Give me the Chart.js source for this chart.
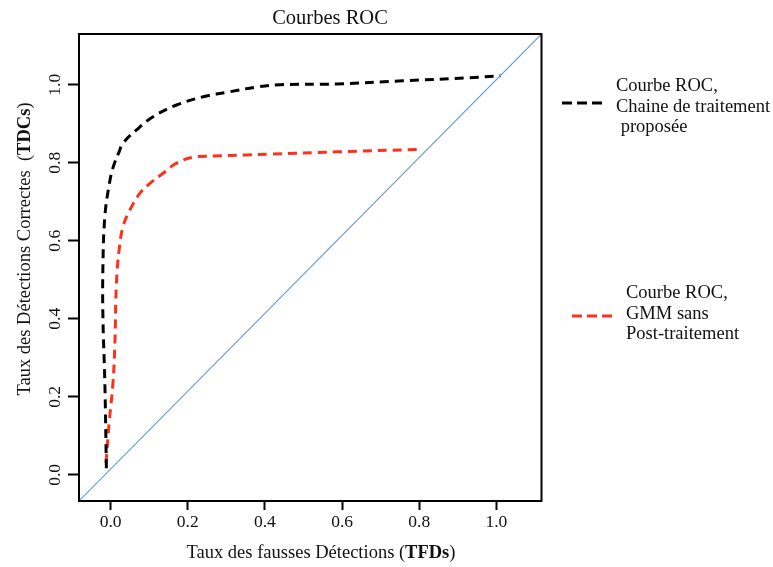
<!DOCTYPE html>
<html>
<head>
    <title>Courbes ROC</title>
    <meta charset="UTF-8">
    <script src="https://cdn.jsdelivr.net/npm/chart.js@4.4.0/dist/chart.umd.min.js"></script>
    <style>
        html, body {
            margin: 0;
            padding: 0;
            background-color: #fff;
        }
    </style>
</head>
<body>
    <canvas id="rocChart" width="773" height="567"></canvas>

    <script>
        // Axis ticks and bounds
        var xTicks = [0, 0.2, 0.4, 0.6, 0.8, 1.0];
        var yTicks = [0, 0.2, 0.4, 0.6, 0.8, 1.0];
        var xRange = [-0.082, 1.117];
        var yRange = [-0.067, 1.130];

        // Courbe ROC, chaine de traitement proposee (black)
        var tfdProposee = [-0.011, -0.015, -0.020, -0.020, -0.015, -0.003, 0.007, 0.022, 0.032, 0.067, 0.110, 0.171, 0.240, 0.309, 0.378, 0.439, 0.586, 0.758, 0.931, 1.011];
        var tdcProposee = [0.017, 0.236, 0.405, 0.534, 0.662, 0.748, 0.790, 0.828, 0.850, 0.884, 0.918, 0.948, 0.969, 0.982, 0.994, 1.000, 1.002, 1.010, 1.018, 1.023];

        // Courbe ROC, GMM sans post-traitement (red)
        var tfdGmm = [-0.012, -0.004, 0.006, 0.011, 0.015, 0.022, 0.032, 0.050, 0.076, 0.102, 0.136, 0.171, 0.214, 0.266, 0.352, 0.413, 0.586, 0.796];
        var tdcGmm = [0.030, 0.132, 0.235, 0.337, 0.491, 0.577, 0.636, 0.679, 0.722, 0.747, 0.773, 0.799, 0.814, 0.817, 0.820, 0.822, 0.828, 0.834];

        var legendItems = [
            { lines: ['Courbe ROC,', 'Chaine de traitement', ' proposée'], color: '#000000' },
            { lines: ['Courbe ROC,', 'GMM sans', 'Post-traitement'], color: '#ff3019' }
        ];

        function toPoints(xs, ys) {
            return xs.map(function (x, i) { return { x: x, y: ys[i] }; });
        }

        var serif = '"Liberation Serif", "Times New Roman", serif';

        // Draw box, tick labels, titles and legend by hand (R-like look)
        var decorPlugin = {
            id: 'decor',
            afterDraw: function (chart) {
                var ctx = chart.ctx;
                var area = chart.chartArea;
                var xs = chart.scales.x;
                var ys = chart.scales.y;

                ctx.save();
                ctx.strokeStyle = '#000';
                ctx.lineWidth = 2;
                ctx.strokeRect(area.left, area.top, area.right - area.left, area.bottom - area.top);

                ctx.fillStyle = '#111';
                ctx.font = '17.5px ' + serif;
                ctx.textAlign = 'center';
                ctx.textBaseline = 'middle';
                xTicks.forEach(function (v) {
                    ctx.fillText(v.toFixed(1), xs.getPixelForValue(v), 522);
                });
                yTicks.forEach(function (v) {
                    ctx.save();
                    ctx.translate(55, ys.getPixelForValue(v));
                    ctx.rotate(-Math.PI / 2);
                    ctx.fillText(v.toFixed(1), 0, 0);
                    ctx.restore();
                });

                // main title
                ctx.font = '20.5px ' + serif;
                ctx.textBaseline = 'alphabetic';
                ctx.fillText('Courbes ROC', 330, 24);

                // axis titles with bold acronyms
                function mixed(parts, cx, cy, rot) {
                    var total = 0;
                    parts.forEach(function (p) {
                        ctx.font = (p.bold ? 'bold ' : '') + '18.5px ' + serif;
                        p.w = ctx.measureText(p.t).width;
                        total += p.w;
                    });
                    ctx.save();
                    ctx.translate(cx, cy);
                    ctx.rotate(rot);
                    ctx.textAlign = 'left';
                    var pos = -total / 2;
                    parts.forEach(function (p) {
                        ctx.font = (p.bold ? 'bold ' : '') + '18.5px ' + serif;
                        ctx.fillText(p.t, pos, 0);
                        pos += p.w;
                    });
                    ctx.restore();
                }
                mixed([{ t: 'Taux des fausses Détections (' }, { t: 'TFDs', bold: true }, { t: ')' }], 321, 558, 0);
                mixed([{ t: 'Taux des Détections Correctes  (' }, { t: 'TDCs', bold: true }, { t: ')' }], 30, 249, -Math.PI / 2);

                // legend
                ctx.font = '18.5px ' + serif;
                ctx.textAlign = 'left';
                ctx.lineWidth = 3;
                ctx.setLineDash([10, 5]);
                var legendPos = [
                    { sx: 562, sy: 103, tx: 616, ty: 91 },
                    { sx: 572, sy: 316, tx: 626, ty: 298 }
                ];
                legendItems.forEach(function (item, i) {
                    var p = legendPos[i];
                    ctx.strokeStyle = item.color;
                    ctx.beginPath();
                    ctx.moveTo(p.sx, p.sy);
                    ctx.lineTo(p.sx + 41, p.sy);
                    ctx.stroke();
                    item.lines.forEach(function (line, j) {
                        ctx.fillText(line, p.tx, p.ty + j * 20.5);
                    });
                });
                ctx.restore();
            }
        };

        function axisOptions(range, ticks, tickLength) {
            return {
                type: 'linear',
                min: range[0],
                max: range[1],
                afterBuildTicks: function (scale) {
                    scale.ticks = ticks.map(function (v) { return { value: v }; });
                },
                afterFit: function (scale) {
                    if (scale.isHorizontal()) {
                        scale.height = 0;
                    } else {
                        scale.width = 0;
                    }
                },
                ticks: { display: false },
                grid: {
                    drawOnChartArea: false,
                    drawTicks: true,
                    tickLength: tickLength,
                    tickColor: '#000',
                    tickWidth: 2
                },
                border: { display: false }
            };
        }

        var rocChart = new Chart(document.getElementById('rocChart').getContext('2d'), {
            type: 'scatter',
            data: {
                datasets: [
                    {
                        label: 'Hasard',
                        data: [{ x: xRange[0], y: yRange[0] }, { x: xRange[1], y: yRange[1] }],
                        showLine: true,
                        borderColor: '#6b9bd2',
                        borderWidth: 1.1,
                        pointRadius: 0
                    },
                    {
                        label: 'Chaine de traitement proposée',
                        data: toPoints(tfdProposee, tdcProposee),
                        showLine: true,
                        borderColor: '#000000',
                        borderWidth: 3,
                        borderDash: [9, 6],
                        tension: 0.4,
                        pointRadius: 0
                    },
                    {
                        label: 'GMM sans Post-traitement',
                        data: toPoints(tfdGmm, tdcGmm),
                        showLine: true,
                        borderColor: '#ff3019',
                        borderWidth: 3,
                        borderDash: [9, 6],
                        tension: 0.4,
                        pointRadius: 0
                    }
                ]
            },
            options: {
                responsive: false,
                animation: false,
                layout: {
                    autoPadding: false,
                    padding: { left: 79, top: 34, right: 231.5, bottom: 66 }
                },
                scales: {
                    x: axisOptions(xRange, xTicks, 9),
                    y: axisOptions(yRange, yTicks, 11)
                },
                plugins: {
                    legend: { display: false },
                    tooltip: { enabled: false },
                    title: { display: false }
                }
            },
            plugins: [decorPlugin]
        });
    </script>
</body>
</html>
